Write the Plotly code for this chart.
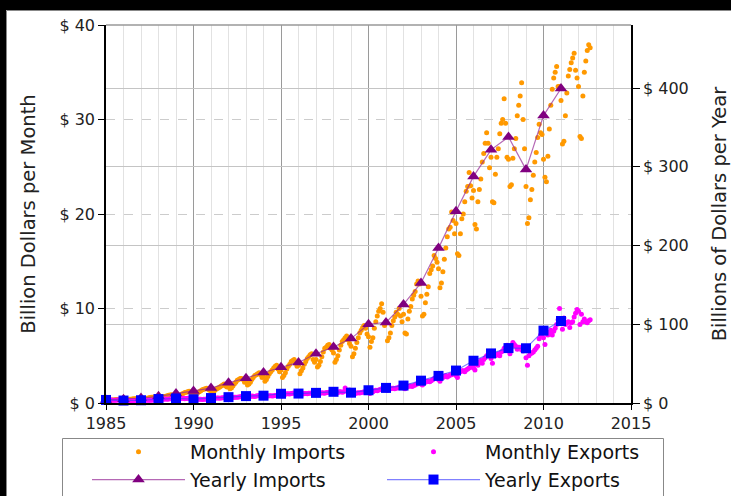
import plotly.graph_objects as go

# ---------------- data (billions of US dollars) ----------------
START_YEAR = 1985

imports_monthly = [
    0.28, 0.25, 0.27, 0.29, 0.31, 0.33, 0.34, 0.36, 0.37, 0.38, 0.35, 0.33,  # 1985
    0.33, 0.30, 0.32, 0.36, 0.39, 0.41, 0.43, 0.45, 0.46, 0.47, 0.44, 0.41,  # 1986
    0.42, 0.38, 0.40, 0.45, 0.50, 0.53, 0.57, 0.60, 0.62, 0.63, 0.60, 0.58,  # 1987
    0.55, 0.50, 0.55, 0.60, 0.68, 0.72, 0.78, 0.82, 0.85, 0.88, 0.80, 0.75,  # 1988
    0.80, 0.70, 0.75, 0.85, 0.95, 1.00, 1.10, 1.15, 1.20, 1.25, 1.10, 1.05,  # 1989
    1.10, 0.90, 0.95, 1.10, 1.20, 1.30, 1.40, 1.45, 1.50, 1.55, 1.45, 1.35,  # 1990
    1.3, 1.1, 1.2, 1.4, 1.5, 1.6, 1.7, 1.8, 1.9, 2.0, 1.8, 1.7,  # 1991
    1.8, 1.5, 1.6, 1.8, 2.0, 2.2, 2.4, 2.5, 2.6, 2.6, 2.5, 2.2,  # 1992
    2.3, 1.9, 2.0, 2.2, 2.5, 2.7, 2.9, 3.0, 3.1, 3.2, 3.0, 2.7,  # 1993
    2.8, 2.3, 2.5, 2.8, 3.1, 3.3, 3.5, 3.7, 3.9, 4.0, 3.6, 3.3,  # 1994
    3.5, 2.7, 2.9, 3.2, 3.6, 3.9, 4.1, 4.4, 4.5, 4.6, 4.2, 3.9,  # 1995
    4.0, 3.1, 3.4, 3.7, 4.1, 4.4, 4.7, 4.9, 5.1, 5.2, 4.6, 4.3,  # 1996
    4.6, 3.8, 4.0, 4.4, 4.9, 5.4, 5.8, 5.9, 6.1, 6.2, 5.8, 5.6,  # 1997
    5.3, 4.3, 4.6, 5.0, 5.6, 6.1, 6.5, 6.7, 6.9, 7.1, 6.7, 6.3,  # 1998
    6.0, 4.9, 5.2, 5.8, 6.4, 6.9, 7.4, 7.7, 8.0, 8.2, 7.9, 7.3,  # 1999
    7.0, 5.9, 6.5, 6.9, 7.9, 8.6, 9.2, 9.7, 10.0, 10.5, 9.6, 8.2,  # 2000
    8.6, 6.6, 6.9, 7.4, 8.2, 8.7, 9.1, 9.6, 9.4, 10.0, 9.2, 8.6,  # 2001
    9.4, 7.4, 7.3, 8.9, 9.7, 10.2, 11.0, 11.4, 11.8, 12.6, 12.9, 12.6,  # 2002
    11.3, 9.2, 9.4, 10.6, 11.5, 12.3, 13.7, 14.1, 14.5, 15.6, 15.3, 14.9,  # 2003
    14.2, 12.2, 12.7, 13.9, 15.2, 16.4, 17.6, 18.4, 18.6, 20.2, 19.3, 17.9,  # 2004
    19.0, 15.8, 15.6, 17.9, 19.5, 20.0, 21.3, 22.4, 22.9, 24.4, 23.0, 21.7,  # 2005
    22.5, 18.9, 18.4, 21.3, 22.6, 23.7, 25.5, 26.4, 27.5, 28.6, 27.5, 24.9,  # 2006
    26.0, 21.3, 21.2, 24.2, 26.0, 26.9, 28.5, 29.6, 30.0, 32.2, 29.6, 26.0,  # 2007
    25.8, 22.9, 23.1, 25.9, 26.9, 28.0, 30.4, 31.5, 32.5, 33.9, 30.0, 26.9,  # 2008
    22.9, 19.0, 19.6, 21.5, 22.6, 24.1, 25.5, 26.5, 28.1, 29.5, 28.6, 28.4,  # 2009
    25.8, 23.9, 23.4, 26.1, 29.0, 31.5, 33.2, 34.4, 35.0, 35.6, 33.5, 33.5,  # 2010
    32.0, 27.4, 27.7, 30.4, 32.8, 34.6, 35.3, 36.0, 36.5, 37.0, 35.2, 34.4,  # 2011
    33.5, 28.2, 28.0, 32.5, 35.0, 36.2, 37.3, 37.9, 37.6,  # 2012
]

exports_monthly = [
    0.35, 0.30, 0.32, 0.33, 0.31, 0.30, 0.28, 0.30, 0.33, 0.34, 0.35, 0.36,  # 1985
    0.26, 0.22, 0.25, 0.24, 0.27, 0.25, 0.24, 0.26, 0.27, 0.28, 0.28, 0.29,  # 1986
    0.27, 0.24, 0.28, 0.28, 0.29, 0.30, 0.28, 0.29, 0.31, 0.31, 0.32, 0.33,  # 1987
    0.35, 0.33, 0.38, 0.40, 0.42, 0.43, 0.41, 0.43, 0.45, 0.46, 0.47, 0.49,  # 1988
    0.45, 0.42, 0.50, 0.48, 0.51, 0.50, 0.46, 0.47, 0.49, 0.48, 0.50, 0.50,  # 1989
    0.38, 0.33, 0.40, 0.39, 0.40, 0.41, 0.38, 0.40, 0.41, 0.43, 0.44, 0.45,  # 1990
    0.45, 0.42, 0.50, 0.50, 0.52, 0.54, 0.50, 0.53, 0.55, 0.56, 0.57, 0.60,  # 1991
    0.55, 0.50, 0.60, 0.58, 0.62, 0.61, 0.60, 0.63, 0.65, 0.68, 0.69, 0.72,  # 1992
    0.62, 0.58, 0.70, 0.70, 0.74, 0.72, 0.70, 0.74, 0.78, 0.80, 0.83, 0.85,  # 1993
    0.70, 0.62, 0.75, 0.74, 0.78, 0.77, 0.75, 0.78, 0.80, 0.82, 0.84, 0.90,  # 1994
    0.85, 0.78, 0.95, 0.93, 0.98, 0.98, 0.95, 1.00, 1.02, 1.05, 1.08, 1.15,  # 1995
    0.90, 0.82, 0.98, 0.95, 1.00, 1.00, 0.98, 1.02, 1.04, 1.06, 1.08, 1.15,  # 1996
    0.98, 0.90, 1.05, 1.02, 1.08, 1.05, 1.02, 1.10, 1.12, 1.14, 1.16, 1.24,  # 1997
    1.05, 0.98, 1.15, 1.12, 1.18, 1.20, 1.15, 1.20, 1.60, 1.30, 1.30, 1.38,  # 1998
    1.00, 0.88, 1.02, 1.00, 1.05, 1.08, 1.05, 1.10, 1.15, 1.20, 1.20, 1.40,  # 1999
    1.10, 1.00, 1.25, 1.20, 1.30, 1.35, 1.30, 1.38, 1.42, 1.50, 1.55, 1.65,  # 2000
    1.45, 1.35, 1.60, 1.50, 1.55, 1.55, 1.50, 1.60, 1.60, 1.70, 1.75, 1.85,  # 2001
    1.60, 1.50, 1.70, 1.75, 1.80, 1.80, 1.75, 1.85, 1.90, 2.00, 2.05, 2.15,  # 2002
    2.00, 1.90, 2.20, 2.20, 2.30, 2.30, 2.25, 2.35, 2.45, 2.60, 2.70, 2.90,  # 2003
    2.50, 2.30, 2.80, 2.70, 2.80, 2.90, 2.75, 2.85, 2.95, 3.00, 3.10, 3.30,  # 2004
    2.90, 2.70, 3.20, 3.30, 3.40, 3.40, 3.30, 3.50, 3.60, 3.70, 3.80, 4.00,  # 2005
    3.70, 3.50, 4.10, 4.00, 4.30, 4.50, 4.20, 4.60, 4.80, 5.00, 5.10, 5.30,  # 2006
    4.70, 4.20, 5.00, 5.00, 5.10, 5.20, 5.00, 5.40, 5.50, 5.80, 5.90, 6.10,  # 2007
    5.60, 5.20, 6.00, 6.40, 6.20, 6.00, 5.70, 5.90, 5.90, 5.60, 5.50, 5.70,  # 2008
    4.80, 4.00, 5.00, 5.20, 5.30, 5.40, 5.60, 5.80, 6.00, 6.80, 7.20, 7.80,  # 2009
    6.90, 6.20, 7.40, 7.20, 7.50, 7.70, 7.20, 7.60, 7.90, 8.30, 8.80, 10.00,  # 2010
    8.50, 7.80, 9.00, 8.30, 8.50, 8.60, 8.00, 8.50, 8.60, 9.10, 9.50, 9.90,  # 2011
    9.70, 8.30, 9.40, 8.60, 8.90, 8.60, 8.50, 8.70, 8.80,  # 2012
]

years = list(range(1985, 2012))
imports_yearly = [3.86, 4.77, 6.29, 8.51, 11.99, 15.24, 18.97, 25.73, 31.54, 38.79,
                  45.54, 51.51, 62.56, 71.17, 81.79, 100.02, 102.28, 125.19, 152.44,
                  196.68, 243.47, 287.77, 321.44, 337.77, 296.37, 364.95, 399.37]
exports_yearly = [3.86, 3.11, 3.50, 5.02, 5.76, 4.81, 6.28, 7.42, 8.76, 9.28,
                  11.75, 11.99, 12.86, 14.24, 13.11, 16.19, 19.18, 22.13, 28.37,
                  34.43, 41.19, 53.67, 62.94, 69.73, 69.50, 91.91, 104.12]

left_ticks = [0, 10, 20, 30, 40]
left_labels = ["$ 0", "$ 10", "$ 20", "$ 30", "$ 40"]
right_ticks = [0, 100, 200, 300, 400]
right_labels = ["$ 0", "$ 100", "$ 200", "$ 300", "$ 400"]
x_ticks = [1985, 1990, 1995, 2000, 2005, 2010, 2015]

# ---------------- layout geometry ----------------
W, H = 731, 496
ML, MR, MT, MB = 106, 100, 25, 93
PW, PH = W - ML - MR, H - MT - MB


def px_x(px):
    return (px - ML) / PW


def px_y(py):
    return (H - MB - py) / PH


FONT = "DejaVu Sans"

months_x_imp = [START_YEAR + i / 12 for i in range(len(imports_monthly))]
months_x_exp = [START_YEAR + i / 12 for i in range(len(exports_monthly))]

fig = go.Figure()
fig.add_trace(go.Scatter(
    x=months_x_imp, y=imports_monthly, mode="markers", name="Monthly Imports",
    marker=dict(color="#FF9900", size=5), cliponaxis=False))
fig.add_trace(go.Scatter(
    x=months_x_exp, y=exports_monthly, mode="markers", name="Monthly Exports",
    marker=dict(color="#FF00FF", size=5), cliponaxis=False))
fig.add_trace(go.Scatter(
    x=years, y=imports_yearly, mode="lines+markers", name="Yearly Imports", yaxis="y2",
    line=dict(color="rgba(150,40,150,0.7)", width=1.2),
    marker=dict(symbol="triangle-up", color="#800080", size=11), cliponaxis=False))
fig.add_trace(go.Scatter(
    x=years, y=exports_yearly, mode="lines+markers", name="Yearly Exports", yaxis="y2",
    line=dict(color="rgba(60,60,255,0.65)", width=1.2),
    marker=dict(symbol="square", color="#0000FF", size=10), cliponaxis=False))

shapes = [
    # black frame strips (top and left)
    dict(type="rect", xref="paper", yref="paper", x0=px_x(-20), x1=px_x(W + 20),
         y0=px_y(10), y1=px_y(-20), fillcolor="black", line=dict(width=0), layer="above"),
    dict(type="rect", xref="paper", yref="paper", x0=px_x(-20), x1=px_x(6),
         y0=px_y(H + 20), y1=px_y(-20), fillcolor="black", line=dict(width=0), layer="above"),
    dict(type="line", xref="paper", yref="paper", x0=px_x(6.5), x1=px_x(W + 20),
         y0=px_y(10.5), y1=px_y(10.5), line=dict(color="#888888", width=1), layer="above"),
    dict(type="line", xref="paper", yref="paper", x0=px_x(6.5), x1=px_x(6.5),
         y0=px_y(10.5), y1=px_y(H + 20), line=dict(color="#888888", width=1), layer="above"),
    # top spine (gray)
    dict(type="line", xref="paper", yref="paper", x0=0, x1=1, y0=1, y1=1,
         line=dict(color="#999999", width=1.5), layer="above"),
    # legend box
    dict(type="rect", xref="paper", yref="paper", x0=px_x(62.5), x1=px_x(663.5),
         y0=px_y(H + 20), y1=px_y(438.5), fillcolor="white",
         line=dict(color="#888888", width=1), layer="below"),
]

fig.update_layout(
    width=W, height=H,
    margin=dict(l=ML, r=MR, t=MT, b=MB, pad=0, autoexpand=False),
    paper_bgcolor="white", plot_bgcolor="white",
    font=dict(family=FONT, color="#222222", size=16),
    showlegend=True,
    legend=dict(
        orientation="h", x=px_x(87), y=px_y(433), xanchor="left", yanchor="top",
        bgcolor="rgba(0,0,0,0)", borderwidth=0,
        font=dict(family=FONT, size=19, color="#111111"),
        itemwidth=93, entrywidth=187, entrywidthmode="pixels",
        traceorder="normal",
    ),
    shapes=shapes,
    xaxis=dict(
        range=[1985, 2015], tickvals=x_ticks, ticks="outside", ticklen=5,
        tickcolor="black", showline=True, linecolor="black", linewidth=1.5,
        showgrid=True, gridcolor="#9a9a9a", gridwidth=1, zeroline=False,
        tickfont=dict(size=16, family=FONT),
        minor=dict(dtick=1, showgrid=True, gridcolor="#e2e2e2", gridwidth=1, ticks=""),
    ),
    yaxis=dict(
        range=[0, 40], tickvals=left_ticks, ticktext=left_labels, ticks="outside", ticklen=6,
        tickcolor="black", showline=True, linecolor="black", linewidth=1.5,
        showgrid=True, gridcolor="#cccccc", griddash="dash", gridwidth=1.2, zeroline=False,
        tickfont=dict(size=16, family=FONT),
        title=dict(text="Billion Dollars per Month", standoff=19,
                   font=dict(size=19.5, family=FONT)),
    ),
    yaxis2=dict(
        range=[0, 480], tickvals=right_ticks, ticktext=right_labels, ticks="outside", ticklen=7,
        tickcolor="black", overlaying="y", side="right", showline=True,
        linecolor="black", linewidth=1.5, showgrid=True, gridcolor="#c4c4c4",
        gridwidth=1, zeroline=False, tickfont=dict(size=16, family=FONT),
        title=dict(text="Billions of Dollars per Year", standoff=27,
                   font=dict(size=19.5, family=FONT)),
    ),
)

fig.write_html(
    "out.html",
    config={"displayModeBar": False},
    post_script="document.body.style.margin='0';document.body.style.overflow='hidden';",
)
